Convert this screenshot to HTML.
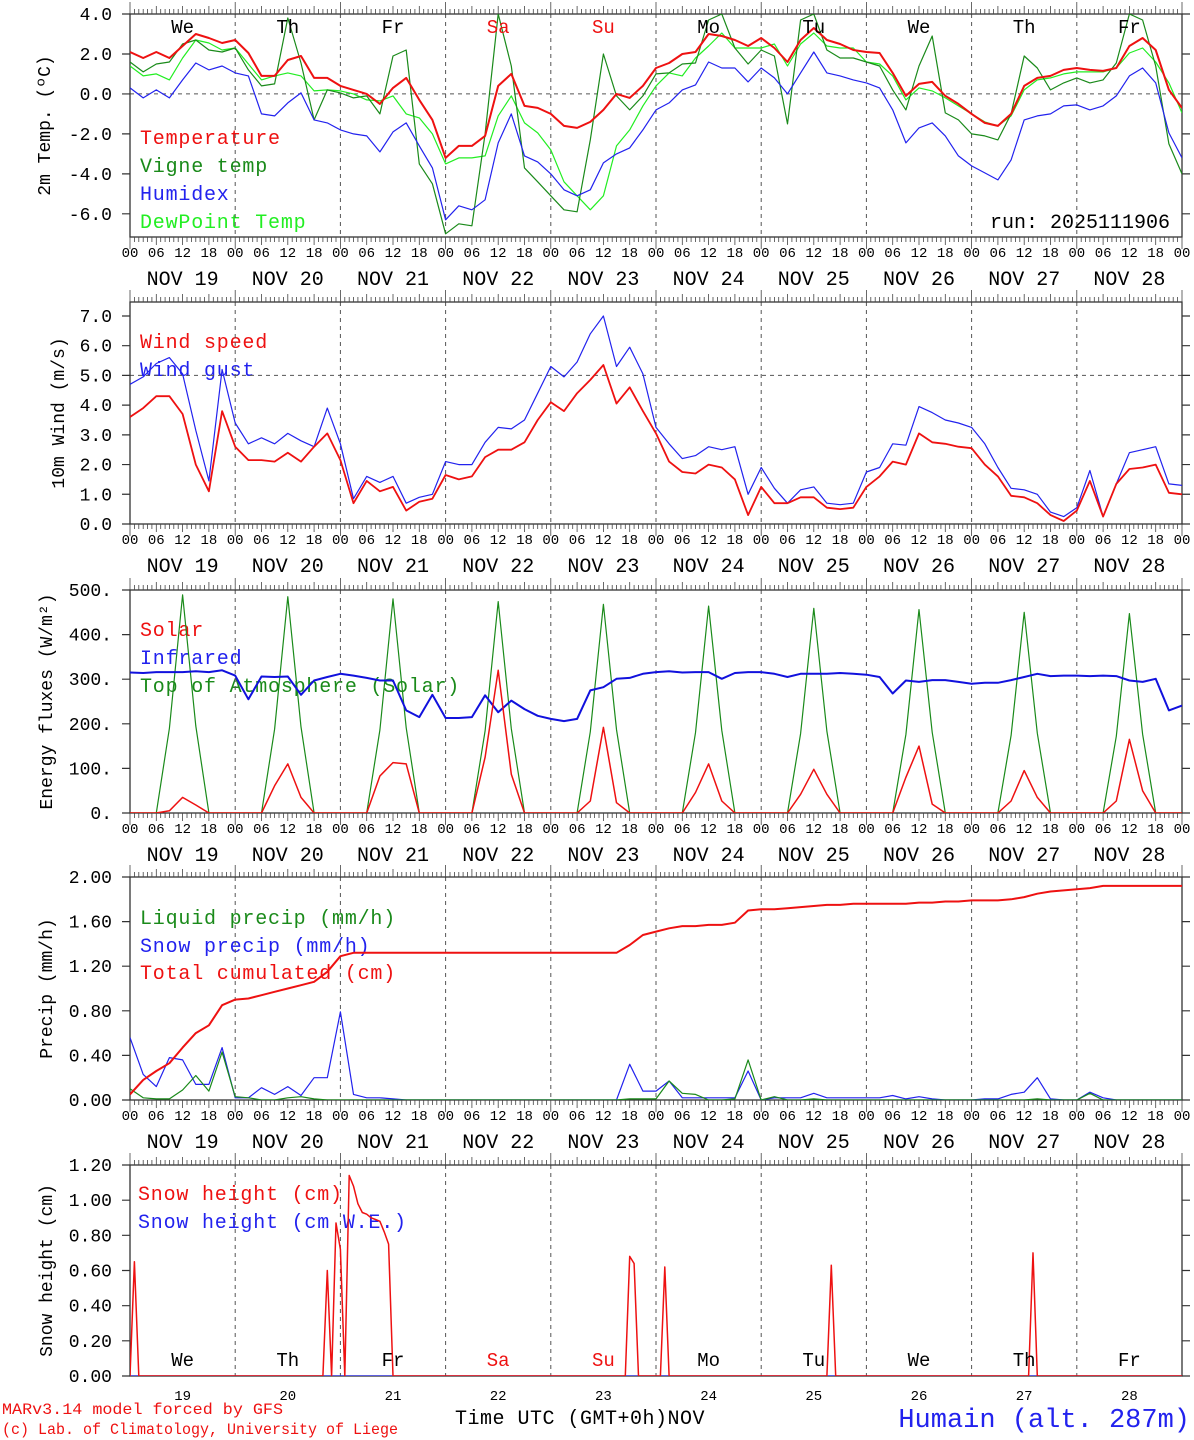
<!DOCTYPE html>
<html><head><meta charset="utf-8"><style>
html,body{margin:0;padding:0;background:#fff;}
svg{display:block;font-family:"Liberation Mono",monospace;}
</style></head><body>
<svg id="chart" width="1194" height="1440" viewBox="0 0 1194 1440" xmlns="http://www.w3.org/2000/svg">
  <g font-size="20" letter-spacing="0.8">
    <text x="140" y="144" fill="#ee1111">Temperature</text>
    <text x="140" y="172" fill="#1a8a1a">Vigne temp</text>
    <text x="140" y="200" fill="#2222ee">Humidex</text>
    <text x="140" y="228" fill="#22ee22">DewPoint Temp</text>
    <text x="990" y="228" fill="#000" letter-spacing="0">run: 2025111906</text>
    <text x="140" y="348" fill="#ee1111">Wind speed</text>
    <text x="140" y="376" fill="#2222ee">Wind gust</text>
    <text x="140" y="636" fill="#ee1111">Solar</text>
    <text x="140" y="664" fill="#2222ee">Infrared</text>
    <text x="140" y="692" fill="#1a8a1a">Top of Atmosphere (Solar)</text>
    <text x="140" y="924" fill="#1a8a1a">Liquid precip (mm/h)</text>
    <text x="140" y="952" fill="#2222ee">Snow precip (mm/h)</text>
    <text x="140" y="979" fill="#ee1111">Total cumulated (cm)</text>
    <text x="138" y="1200" fill="#ee1111">Snow height (cm)</text>
    <text x="138" y="1228" fill="#2222ee">Snow height (cm W.E.)</text>
    <text x="455" y="1424" fill="#000" letter-spacing="0.5">Time UTC (GMT+0h)NOV</text>
  </g>
  <text x="2" y="1414" font-size="16" fill="#ee1111" textLength="281" lengthAdjust="spacingAndGlyphs">MARv3.14 model forced by GFS</text>
  <text x="2" y="1434" font-size="16" fill="#ee1111" textLength="396" lengthAdjust="spacingAndGlyphs">(c) Lab. of Climatology, University of Liege</text>
  <text x="1190" y="1427" font-size="27" fill="#2222ee" text-anchor="end">Humain (alt. 287m)</text>
</svg>
<script>
// ---------- DATA (3-hourly, Nov19 00 .. Nov29 00) ----------
const dayLabels = ["NOV 19","NOV 20","NOV 21","NOV 22","NOV 23","NOV 24","NOV 25","NOV 26","NOV 27","NOV 28"];
const weekdays = ["We","Th","Fr","Sa","Su","Mo","Tu","We","Th","Fr"];
const dayNums = ["19","20","21","22","23","24","25","26","27","28"];
const hourLabels = ["00","06","12","18"];
const tempTicks = [4,2,0,-2,-4,-6];
const tempTickLabels = ["4.0","2.0","0.0","-2.0","-4.0","-6.0"];
const windTicks = [0,1,2,3,4,5,6,7];
const windTickLabels = ["0.0","1.0","2.0","3.0","4.0","5.0","6.0","7.0"];
const fluxTicks = [0,100,200,300,400,500];
const fluxTickLabels = ["0.","100.","200.","300.","400.","500."];
const precTicks = [0,0.4,0.8,1.2,1.6,2.0];
const precTickLabels = ["0.00","0.40","0.80","1.20","1.60","2.00"];
const snowTicks = [0,0.2,0.4,0.6,0.8,1.0,1.2];
const snowTickLabels = ["0.00","0.20","0.40","0.60","0.80","1.00","1.20"];

const temperature = [2.1,1.8,2.1,1.8,2.4,3.0,2.8,2.55,2.7, 2.05,0.9,0.9,1.7,1.9,0.8,0.8, 0.4,0.2,0.0,-0.5,0.3,0.8,-0.3,-1.3, -3.2,-2.6,-2.6,-2.1,0.4,1.0,-0.6,-0.7, -1.0,-1.6,-1.7,-1.4,-0.8,0.0,-0.2,0.4, 1.3,1.55,2.0,2.1,3.0,2.9,2.7,2.4, 2.8,2.3,1.6,2.7,3.3,2.7,2.5,2.2, 2.1,2.05,1.05,-0.1,0.5,0.6,-0.1,-0.5, -1.0,-1.45,-1.6,-1.0,0.4,0.8,0.9,1.2, 1.3,1.2,1.15,1.3,2.4,2.8,2.2,0.2,-0.7];
const vigneTemp = [1.6,1.1,1.5,1.6,2.5,2.7,2.2,2.1, 2.3,1.2,0.4,0.5,3.8,1.55,-1.3,0.2, 0.05,-0.2,-0.1,-1.0,1.9,2.2,-3.5,-4.5, -7.0,-6.5,-6.6,-2.0,4.0,1.4,-3.7,-4.4, -5.1,-5.8,-5.9,-2.3,2.0,-0.1,-0.8,-0.1, 1.0,1.05,1.5,1.55,3.7,4.0,2.3,1.5, 2.2,1.9,-1.5,3.7,4.0,2.2,1.8,1.8, 1.6,1.4,0.2,-0.8,1.4,2.9,-0.95,-1.3, -2.0,-2.1,-2.3,-1.0,1.9,1.3,0.2,0.55, 0.8,0.55,0.7,1.55,4.0,3.7,1.4,-2.5,-4.0];
const humidex = [0.3,-0.2,0.2,-0.2,0.7,1.55,1.2,1.4, 1.05,0.9,-1.0,-1.1,-0.45,0.05,-1.3,-1.45, -1.8,-2.0,-2.1,-2.9,-1.9,-1.45,-2.6,-3.7, -6.3,-5.6,-5.8,-5.3,-2.45,-1.0,-3.1,-3.4, -4.0,-4.8,-5.1,-4.8,-3.45,-3.0,-2.7,-1.8, -0.8,-0.45,0.2,0.45,1.6,1.3,1.3,0.6, 1.3,0.8,0.0,1.05,2.1,1.05,0.9,0.7, 0.55,0.3,-0.8,-2.45,-1.7,-1.45,-2.1,-3.1, -3.6,-3.95,-4.3,-3.3,-1.3,-1.1,-1.0,-0.6, -0.55,-0.8,-0.6,-0.1,0.9,1.3,0.55,-1.95,-3.2];
const dewPoint = [1.4,0.9,1.0,0.7,1.8,2.7,2.55,2.2, 2.3,1.5,0.7,0.9,1.05,0.9,0.15,0.2, 0.15,0.0,-0.3,-0.35,-0.1,-1.0,-1.2,-2.0, -3.5,-3.2,-3.2,-3.1,-1.1,-0.1,-1.45,-1.95, -2.8,-4.4,-5.1,-5.8,-5.1,-2.6,-1.8,-0.6, 0.4,1.05,0.9,1.8,2.4,3.05,2.3,2.3, 2.3,2.5,1.4,2.5,3.05,2.4,2.3,2.3, 1.6,1.5,0.9,-0.3,0.3,0.15,-0.2,-0.6, -1.0,-1.4,-1.6,-1.1,0.2,0.7,0.8,1.0, 1.1,1.1,1.1,1.3,2.05,2.3,1.6,0.55,-0.95];

const windSpeed = [3.6,3.9,4.3,4.3,3.7,2.0,1.1,3.8, 2.6,2.15,2.15,2.1,2.4,2.1,2.6,3.05, 2.15,0.7,1.45,1.1,1.25,0.45,0.75,0.85, 1.65,1.5,1.6,2.25,2.5,2.5,2.75,3.5, 4.1,3.8,4.4,4.85,5.35,4.05,4.6,3.8, 3.05,2.1,1.75,1.7,2.0,1.9,1.5,0.3, 1.25,0.7,0.7,0.9,0.9,0.55,0.5,0.55, 1.25,1.6,2.1,2.0,3.05,2.75,2.7,2.6, 2.55,2.0,1.6,0.95,0.9,0.7,0.3,0.1, 0.45,1.45,0.25,1.35,1.85,1.9,2.0,1.05,1.0];
const windGust = [4.7,4.95,5.4,5.6,5.05,3.15,1.45,5.2, 3.4,2.7,2.9,2.7,3.05,2.8,2.6,3.9, 2.7,0.85,1.6,1.4,1.6,0.7,0.9,1.0, 2.1,2.0,2.0,2.75,3.25,3.2,3.5,4.4, 5.3,4.95,5.45,6.4,7.0,5.3,5.95,5.05, 3.25,2.7,2.2,2.3,2.6,2.5,2.6,1.0, 1.9,1.2,0.7,1.15,1.25,0.7,0.65,0.7, 1.75,1.9,2.7,2.65,3.95,3.75,3.5,3.4, 3.25,2.7,1.9,1.2,1.15,1.0,0.4,0.25, 0.55,1.8,0.25,1.35,2.4,2.5,2.6,1.35,1.3];

const solar = [0,0,0,5,35,18,0,0, 0,0,0,61,110,35,0,0, 0,0,0,83,113,110,0,0, 0,0,0,125,320,87,0,0, 0,0,0,27,192,23,0,0, 0,0,0,46,110,27,0,0, 0,0,0,42,98,42,0,0, 0,0,0,80,150,20,0,0, 0,0,0,27,95,35,0,0, 0,0,0,27,165,50,0,0, 0];
const infrared = [315,314,316,316,316,318,316,320, 308,255,306,305,306,265,297,305, 312,308,303,297,297,230,215,265, 213,213,215,264,226,252,233,218, 211,206,211,275,282,301,303,312, 316,318,315,316,316,301,314,316, 316,312,305,312,312,312,314,312, 310,305,268,297,294,298,298,294, 290,292,292,298,305,312,307,308, 308,307,308,307,297,294,301,230,241];
const topAtmos = [0,0,0,190,489,195,0,0, 0,0,0,188,485,193,0,0, 0,0,0,186,480,191,0,0, 0,0,0,184,474,189,0,0, 0,0,0,182,468,187,0,0, 0,0,0,180,464,185,0,0, 0,0,0,178,459,183,0,0, 0,0,0,176,456,181,0,0, 0,0,0,174,450,179,0,0, 0,0,0,172,447,177,0,0, 0];

const liquidPrecip = [0.1,0.02,0.01,0.01,0.09,0.22,0.08,0.43, 0.03,0.02,0.0,0.0,0.02,0.03,0.01,0.0, 0,0,0,0,0,0,0,0, 0,0,0,0,0,0,0,0, 0,0,0,0,0,0,0.01,0.01, 0.01,0.17,0.06,0.05,0.0,0.0,0.01,0.36, 0.0,0.03,0.0,0.0,0.01,0.0,0.0,0.0, 0,0,0,0,0,0,0,0, 0,0,0,0,0,0.01,0,0, 0,0.06,0.0,0,0,0,0,0,0];
const snowPrecip = [0.56,0.23,0.12,0.38,0.36,0.14,0.14,0.47, 0.02,0.02,0.11,0.05,0.12,0.04,0.2,0.2, 0.79,0.05,0.02,0.02,0.01,0,0,0, 0,0,0,0,0,0,0,0, 0,0,0,0,0,0,0.32,0.08, 0.08,0.17,0.02,0.02,0.02,0.02,0.02,0.26, 0.0,0.02,0.02,0.02,0.06,0.02,0.02,0.02, 0.02,0.02,0.04,0.01,0.03,0.01,0.0,0.0, 0.0,0.01,0.01,0.05,0.07,0.2,0.01,0.0, 0.0,0.07,0.02,0,0,0,0,0,0];
const totalCumul = [0.05,0.18,0.26,0.33,0.47,0.6,0.67,0.85, 0.9,0.91,0.94,0.97,1.0,1.03,1.06,1.15, 1.29,1.32,1.32,1.32,1.32,1.32,1.32,1.32, 1.32,1.32,1.32,1.32,1.32,1.32,1.32,1.32, 1.32,1.32,1.32,1.32,1.32,1.32,1.39,1.48, 1.51,1.54,1.56,1.56,1.57,1.57,1.59,1.7, 1.71,1.71,1.72,1.73,1.74,1.75,1.75,1.76, 1.76,1.76,1.76,1.76,1.77,1.77,1.78,1.78, 1.79,1.79,1.79,1.8,1.82,1.85,1.87,1.88, 1.89,1.9,1.92,1.92,1.92,1.92,1.92,1.92,1.92];

// hourly snow height (241 values)
const snowHeight = [
0,0.65,0,0,0,0,0,0,0,0,0,0,0,0,0,0,0,0,0,0,0,0,0,0,
0,0,0,0,0,0,0,0,0,0,0,0,0,0,0,0,0,0,0,0,0,0.6,0,0.87,
0.72,0,1.14,1.08,0.98,0.93,0.92,0.9,0.89,0.88,0.82,0.75,0,0,0,0,0,0,0,0,0,0,0,0,
0,0,0,0,0,0,0,0,0,0,0,0,0,0,0,0,0,0,0,0,0,0,0,0,
0,0,0,0,0,0,0,0,0,0,0,0,0,0,0,0,0,0,0.68,0.64,0,0,0,0,
0,0,0.62,0,0,0,0,0,0,0,0,0,0,0,0,0,0,0,0,0,0,0,0,0,
0,0,0,0,0,0,0,0,0,0,0,0,0,0,0,0,0.63,0,0,0,0,0,0,0,
0,0,0,0,0,0,0,0,0,0,0,0,0,0,0,0,0,0,0,0,0,0,0,0,
0,0,0,0,0,0,0,0,0,0,0,0,0,0,0.7,0,0,0,0,0,0,0,0,0,
0,0,0,0,0,0,0,0,0,0,0,0,0,0,0,0,0,0,0,0,0,0,0,0,
0];
const snowWE = new Array(241).fill(0);

// ---------- DRAWING ----------
const svg = document.getElementById('chart');
const NS = "http://www.w3.org/2000/svg";
const X0 = 130, X1 = 1182, DAYW = (X1 - X0) / 10;
function xh(h){ return X0 + h * DAYW / 24; }
function mk(tag, attrs, parent){ const e = document.createElementNS(NS, tag); for (const k in attrs) e.setAttribute(k, attrs[k]); (parent||svg).appendChild(e); return e; }
function txt(s, x, y, size, fill, anchor, parent){ const t = mk('text', {x:x, y:y, 'font-size':size, fill:fill||'#000', 'text-anchor':anchor||'start'}, parent); t.textContent = s; return t; }

const panels = [
 {name:'temperature-panel', top:14, bot:237, vmin:-7.16, vmax:4.0, ticks:tempTicks, labels:tempTickLabels, title:'2m Temp. (ºC)', titleX:50, dash:0},
 {name:'wind-panel', top:302, bot:524, vmin:0, vmax:7.47, ticks:windTicks, labels:windTickLabels, title:'10m Wind (m/s)', titleX:64, dash:5},
 {name:'energy-panel', top:590, bot:813, vmin:0, vmax:500, ticks:fluxTicks, labels:fluxTickLabels, title:'Energy fluxes (W/m²)', titleX:52},
 {name:'precip-panel', top:877, bot:1100, vmin:0, vmax:2.0, ticks:precTicks, labels:precTickLabels, title:'Precip (mm/h)', titleX:52},
 {name:'snow-panel', top:1165, bot:1376, vmin:0, vmax:1.2, ticks:snowTicks, labels:snowTickLabels, title:'Snow height (cm)', titleX:52}
];
panels.forEach(p => { p.y = v => p.bot - (v - p.vmin) / (p.vmax - p.vmin) * (p.bot - p.top); });

panels.forEach((p, pi) => {
  const g = mk('g', {});
  
  
  for (let d = 1; d < 10; d++) {
    const l = mk('line', {x1:xh(d*24), x2:xh(d*24), y1:p.top, y2:p.bot, stroke:'#555', 'stroke-width':1, 'stroke-dasharray':'4,4'}, g);
    
    
  }
  if (p.dash !== undefined) {
    const l = mk('line', {x1:X0, x2:X1, y1:p.y(p.dash), y2:p.y(p.dash), stroke:'#555', 'stroke-width':1, 'stroke-dasharray':'4,4'}, g);
    
    
  }
  const fr = mk('rect', {x:X0, y:p.top, width:X1-X0, height:p.bot-p.top, fill:'none', stroke:'#333', 'stroke-width':1.3}, g);
  
  
  let d = '';
  for (let h = 0; h <= 240; h++) {
    const len = h % 24 === 0 ? 12 : (h % 6 === 0 ? 8 : 5);
    const x = xh(h).toFixed(1);
    if (pi < 4) d += `M${x},${p.bot}v${len}`;
    d += `M${x},${p.top}v${-len}`;
  }
  const tk = mk('path', {d:d, stroke:'#444', 'stroke-width':0.8, fill:'none'}, g);
  
  
  p.ticks.forEach((v, i) => {
    const yy = p.y(v);
    const t = mk('path', {d:`M${X0-8},${yy}h8M${X1},${yy}h8`, stroke:'#333', 'stroke-width':1.2}, g);
    
    
    const lb = txt(p.labels[i], 112, yy + 6, 18, '#000', 'end', g);
    
    
  });
  const cy = (p.top + p.bot) / 2;
  const ti = mk('text', {x:p.titleX, y:cy, 'font-size':18, 'text-anchor':'middle', transform:`rotate(-90 ${p.titleX} ${cy})`}, g);
  ti.textContent = p.title;
  
  
  if (pi < 4) {
    for (let dd = 0; dd < 10; dd++) {
      hourLabels.forEach((s, k) => {
        const t = txt(s, xh(dd*24 + k*6), p.bot + 20, 14, '#000', 'middle', g);
        
        
      });
      const nl = txt(dayLabels[dd], xh(dd*24 + 12), p.bot + 48, 20, '#000', 'middle', g);
      
      
    }
    const e = txt('00', X1, p.bot + 20, 14, '#000', 'middle', g);
    
    
  }
});

function line(arr, stepH, p, color, w, name){
  let d = '';
  arr.forEach((v, i) => { d += (i ? 'L' : 'M') + xh(i*stepH).toFixed(1) + ',' + p.y(v).toFixed(1); });
  const cp = mk('clipPath', {id:'c'+name});
  mk('rect', {x:X0, y:p.top, width:X1-X0, height:p.bot-p.top}, cp);
  const e = mk('path', {d:d, stroke:color, 'stroke-width':w, fill:'none', 'stroke-linejoin':'round', 'clip-path':`url(#c${name})`});
  
  
  return e;
}
const P = panels;
line(dewPoint, 3, P[0], '#22ee22', 1.2, 'dewpoint-line');
line(vigneTemp, 3, P[0], '#1a8a1a', 1.2, 'vigne-temp-line');
line(humidex, 3, P[0], '#2222ee', 1.2, 'humidex-line');
line(temperature, 3, P[0], '#ee1111', 2, 'temperature-line');
line(windGust, 3, P[1], '#2222ee', 1.2, 'wind-gust-line');
line(windSpeed, 3, P[1], '#ee1111', 1.8, 'wind-speed-line');
line(topAtmos, 3, P[2], '#1a8a1a', 1.2, 'toa-solar-line');
line(infrared, 3, P[2], '#1111dd', 2, 'infrared-line');
line(solar, 3, P[2], '#ee1111', 1.5, 'solar-line');
line(snowPrecip, 3, P[3], '#2222ee', 1.2, 'snow-precip-line');
line(liquidPrecip, 3, P[3], '#1a8a1a', 1.2, 'liquid-precip-line');
line(totalCumul, 3, P[3], '#ee1111', 2, 'total-cumulated-line');
line(snowWE, 1, P[4], '#2222ee', 1.2, 'snow-we-line');
line(snowHeight, 1, P[4], '#ee1111', 1.5, 'snow-height-line');

for (let dd = 0; dd < 10; dd++) {
  const col = (weekdays[dd] === 'Sa' || weekdays[dd] === 'Su') ? '#ee1111' : '#000';
  const a = txt(weekdays[dd], xh(dd*24 + 12), 33, 19, col, 'middle');
  
  
  const b = txt(weekdays[dd], xh(dd*24 + 12), 1366, 19, col, 'middle');
  
  
  const c = txt(dayNums[dd], xh(dd*24 + 12), 1400, 14, '#000', 'middle');
  
  
}
</script>
</body></html>
